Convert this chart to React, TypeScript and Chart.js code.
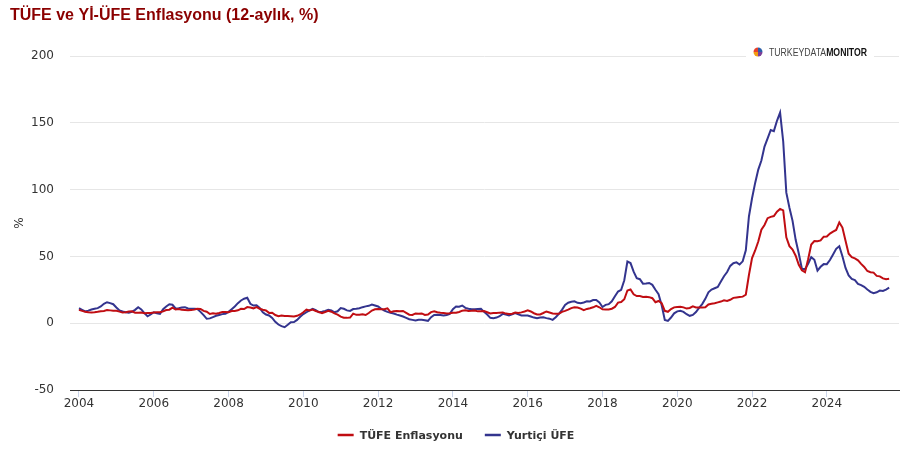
import React, { useEffect, useRef } from 'react';
import { Chart, registerables } from 'chart.js';

Chart.register(...registerables);

const titleText = 'TÜFE ve Yİ-ÜFE Enflasyonu (12-aylık, %)';
const seriesNames = ['TÜFE Enflasyonu', 'Yurtiçi ÜFE'];
const seriesColors = ['#c00d12', '#33348e'];
const startYear = 2004;
const yearTicks = [2004, 2006, 2008, 2010, 2012, 2014, 2016, 2018, 2020, 2022, 2024];
const yMin = -50;
const yMax = 200;
const yStep = 50;

// TÜFE, 12-month %, monthly from Jan 2004
const tufe = [
  10.0, 9.2, 8.6, 8.2, 8.0, 8.2, 8.5, 9.0, 9.2, 9.8, 9.6, 9.3,
  9.24, 8.69, 7.94, 8.18, 8.70, 8.95, 7.82, 7.91, 7.99, 7.52, 7.61, 7.72,
  7.93, 8.15, 8.16, 8.83, 9.86, 10.12, 11.69, 10.26, 10.55, 9.98, 9.86, 9.65,
  9.93, 10.16, 10.86, 10.72, 9.23, 8.60, 6.90, 7.39, 7.12, 7.70, 8.40, 8.39,
  8.17, 9.10, 9.15, 9.66, 10.74, 10.61, 12.06, 11.77, 11.13, 11.99, 10.76, 10.06,
  9.50, 7.73, 7.89, 6.13, 5.24, 5.73, 5.39, 5.33, 5.27, 5.08, 5.53, 6.53,
  8.19, 10.13, 9.56, 10.19, 9.10, 8.37, 7.58, 8.33, 9.24, 8.62, 7.29, 6.40,
  4.90, 4.16, 3.99, 4.26, 7.17, 6.24, 6.31, 6.65, 6.15, 7.66, 9.48, 10.45,
  10.61, 10.43, 10.43, 11.14, 8.28, 8.87, 9.07, 8.88, 9.19, 7.80, 6.37, 6.16,
  7.31, 7.03, 7.29, 6.13, 6.51, 8.30, 8.88, 8.17, 7.88, 7.71, 7.32, 7.40,
  7.75, 7.89, 8.39, 9.38, 9.66, 9.16, 9.32, 9.54, 8.86, 8.96, 9.15, 8.17,
  7.24, 7.55, 7.61, 7.91, 8.09, 7.20, 6.81, 7.14, 7.95, 7.58, 8.10, 8.81,
  9.58, 8.78, 7.46, 6.57, 6.58, 7.64, 8.79, 8.05, 7.28, 7.16, 7.00, 8.53,
  9.22, 10.13, 11.29, 11.87, 11.72, 10.90, 9.79, 10.68, 11.20, 11.90, 12.98, 11.92,
  10.35, 10.26, 10.23, 10.85, 12.15, 15.39, 15.85, 17.90, 24.52, 25.24, 21.62, 20.30,
  20.35, 19.67, 19.71, 19.50, 18.71, 15.72, 16.65, 15.01, 9.26, 8.55, 10.56, 11.84,
  12.15, 12.37, 11.86, 10.94, 11.39, 12.62, 11.76, 11.77, 11.75, 11.89, 14.03, 14.60,
  14.97, 15.61, 16.19, 17.14, 16.59, 17.53, 18.95, 19.25, 19.58, 19.89, 21.31, 36.08,
  48.69, 54.44, 61.14, 69.97, 73.50, 78.62, 79.60, 80.21, 83.45, 85.51, 84.39, 64.27,
  57.68, 55.18, 50.51, 43.68, 39.59, 38.21, 47.83, 58.94, 61.53, 61.36, 61.98, 64.77,
  64.86, 67.07, 68.50, 69.80, 75.45, 71.60, 61.78, 51.97, 49.38, 48.58, 47.09, 44.38,
  42.12, 39.05, 38.10, 37.86, 35.41, 35.05, 33.52, 32.95, 33.29,
];

// Yurtiçi ÜFE, 12-month %, monthly from Jan 2004
const yiufe = [
  11.2, 10.0, 8.8, 9.4, 10.2, 10.8, 11.3, 12.5, 14.5, 15.7, 15.0, 14.2,
  11.8, 9.6, 8.8, 8.2, 7.9, 8.5, 10.0, 12.0, 10.3, 7.5, 5.2, 6.5,
  8.2, 7.5, 7.0, 10.5, 12.5, 14.2, 13.8, 11.0, 11.2, 11.8, 12.0, 11.0,
  10.8, 10.8, 10.6, 8.5, 6.0, 3.3, 3.6, 4.6, 5.6, 6.2, 6.8, 7.0,
  8.5, 10.5, 12.5, 15.0, 17.0, 18.3, 19.0, 14.5, 13.2, 13.4, 11.5, 8.2,
  6.5, 5.8, 4.0, 1.0, -1.0, -2.2, -3.0, -1.2, 0.8, 0.9, 2.5, 4.8,
  6.8, 8.2, 9.6, 10.8, 9.8, 8.2, 8.6, 9.2, 10.0, 9.6, 8.2, 8.9,
  11.3, 10.8, 9.6, 9.2, 10.6, 10.8, 11.2, 12.0, 12.6, 13.0, 14.0, 13.3,
  12.5, 10.8, 9.4, 8.5, 7.8, 7.2, 6.4, 5.8, 5.0, 4.0, 3.0, 2.5,
  2.0, 2.5, 2.6, 2.2, 1.8, 4.5, 6.2, 6.4, 6.2, 5.8, 6.2, 7.0,
  10.5, 12.5, 12.3, 13.2, 11.5, 10.8, 10.5, 10.4, 10.7, 10.8, 8.5, 6.5,
  4.0, 3.8, 4.2, 5.2, 7.0, 6.4, 5.8, 6.6, 7.5, 6.6, 5.8, 5.7,
  5.8, 5.0, 4.2, 3.8, 4.2, 4.5, 3.8, 3.4, 2.5, 4.5, 7.0, 10.0,
  13.69, 15.36, 16.09, 16.37, 15.26, 14.87, 15.45, 16.34, 16.28, 17.28, 17.30, 15.47,
  12.14, 13.71, 14.28, 16.37, 20.16, 23.71, 25.00, 32.13, 46.15, 45.01, 38.54, 33.64,
  32.93, 29.59, 29.64, 30.12, 28.71, 25.04, 21.66, 13.45, 2.45, 1.70, 4.26, 7.36,
  8.84, 9.26, 8.50, 6.71, 5.53, 6.17, 8.33, 11.53, 14.33, 18.20, 23.11, 25.15,
  26.16, 27.09, 31.20, 35.17, 38.33, 42.89, 44.92, 45.52, 43.96, 46.31, 54.62, 79.89,
  93.53, 105.01, 114.97, 121.82, 132.16, 138.31, 144.61, 143.75, 151.50, 157.69, 136.02, 97.72,
  86.46, 76.61, 62.43, 52.11, 40.76, 40.42, 44.50, 49.41, 47.44, 39.39, 42.25, 44.22,
  44.20, 47.29, 51.47, 55.66, 57.68, 50.09, 41.37, 35.75, 33.09, 32.24, 29.47, 28.52,
  27.20, 25.21, 23.50, 22.50, 23.13, 24.45, 24.19, 25.16, 26.59,
];

const monthX = tufe.map((_, i) => startYear + i / 12);

const decorPlugin = {
  id: 'decor',
  afterDraw(chart: any) {
    const ctx = chart.ctx as CanvasRenderingContext2D;
    ctx.save();
    // Title
    ctx.font = 'bold 16px "Liberation Sans", Arial, sans-serif';
    ctx.fillStyle = '#8b0000';
    ctx.textAlign = 'left';
    ctx.textBaseline = 'alphabetic';
    ctx.fillText(titleText, 10, 20);

    // Logo
    ctx.fillStyle = '#ffffff';
    ctx.fillRect(746, 45, 128, 15);
    const cx = 758, cy = 52, r = 4.5;
    const wedge = ['#e8412c', '#2c5fa8', '#7b3f98', '#f39c12'];
    for (let k = 0; k < 4; k++) {
      ctx.beginPath();
      ctx.moveTo(cx, cy);
      ctx.arc(cx, cy, r, -Math.PI + k * Math.PI / 2, -Math.PI + (k + 1) * Math.PI / 2);
      ctx.closePath();
      ctx.fillStyle = wedge[k];
      ctx.fill();
    }
    const part1 = 'TURKEYDATA';
    const part2 = 'MONITOR';
    const f1 = '10px "Liberation Sans Narrow", "Liberation Sans", Arial, sans-serif';
    const f2 = 'bold 10px "Liberation Sans Narrow", "Liberation Sans", Arial, sans-serif';
    ctx.font = f1;
    const w1 = ctx.measureText(part1).width;
    ctx.font = f2;
    const w2 = ctx.measureText(part2).width;
    const sx = 98 / (w1 + w2);
    ctx.save();
    ctx.translate(769, 56);
    ctx.scale(sx, 1);
    ctx.font = f1;
    ctx.fillStyle = '#444444';
    ctx.fillText(part1, 0, 0);
    ctx.font = f2;
    ctx.fillStyle = '#111111';
    ctx.fillText(part2, w1, 0);
    ctx.restore();

    // Legend
    ctx.font = 'bold 11px "DejaVu Sans", sans-serif';
    ctx.textBaseline = 'middle';
    const ds = chart.data.datasets;
    const widths = ds.map((d: any) => 16 + 6 + ctx.measureText(d.label).width);
    const total = widths.reduce((a: number, b: number) => a + b, 0) + 22 * (ds.length - 1);
    let x = 456 - total / 2;
    const ly = 435;
    ds.forEach((d: any, i: number) => {
      ctx.strokeStyle = d.borderColor;
      ctx.lineWidth = 2.5;
      ctx.beginPath();
      ctx.moveTo(x, ly);
      ctx.lineTo(x + 16, ly);
      ctx.stroke();
      ctx.fillStyle = '#333333';
      ctx.fillText(d.label, x + 22, ly + 1);
      x += widths[i] + 22;
    });
    ctx.restore();
  },
};

export default function App() {
  const ref = useRef<HTMLCanvasElement>(null);
  useEffect(() => {
    document.body.style.margin = '0';
    Chart.defaults.font.family = '"DejaVu Sans", sans-serif';
    const chart = new Chart(ref.current as HTMLCanvasElement, {
      type: 'line',
      data: {
        datasets: [tufe, yiufe].map((series, s) => ({
          label: seriesNames[s],
          data: series.map((v, i) => ({ x: monthX[i], y: v })),
          borderColor: seriesColors[s],
          backgroundColor: seriesColors[s],
          borderWidth: 2,
          pointRadius: 0,
          tension: 0,
          fill: false,
        })),
      },
      options: {
        responsive: false,
        animation: false,
        devicePixelRatio: 1,
        layout: { padding: { top: 56, right: 11, bottom: 0, left: 0 } },
        plugins: {
          legend: { display: false },
          tooltip: { enabled: false },
          title: { display: false },
        },
        scales: {
          x: {
            type: 'linear',
            min: 2003.76,
            max: 2025.93,
            afterBuildTicks: (axis: any) => {
              axis.ticks = yearTicks.map((v) => ({ value: v }));
            },
            afterFit: (s: any) => {
              s.height = 72;
            },
            ticks: {
              callback: (v: any) => String(v),
              autoSkip: false,
              maxRotation: 0,
              padding: 0,
              color: '#333333',
              font: { size: 12 },
            },
            grid: { drawOnChartArea: false, color: '#ccd6eb', tickLength: 7 },
            border: { color: '#333333', width: 1 },
          },
          y: {
            min: yMin,
            max: yMax,
            afterFit: (s: any) => {
              s.width = 70;
            },
            ticks: { stepSize: yStep, padding: 16, color: '#333333', font: { size: 12 } },
            grid: { color: '#e6e6e6', drawTicks: false },
            border: { display: false },
            title: {
              display: true,
              text: '%',
              color: '#333333',
              font: { size: 12 },
              padding: { top: 13, bottom: 0 },
            },
          },
        },
      },
      plugins: [decorPlugin],
    });
    return () => chart.destroy();
  }, []);
  return (
    <div style={{ width: 910, height: 462 }}>
      <canvas ref={ref} width={910} height={462} />
    </div>
  );
}
